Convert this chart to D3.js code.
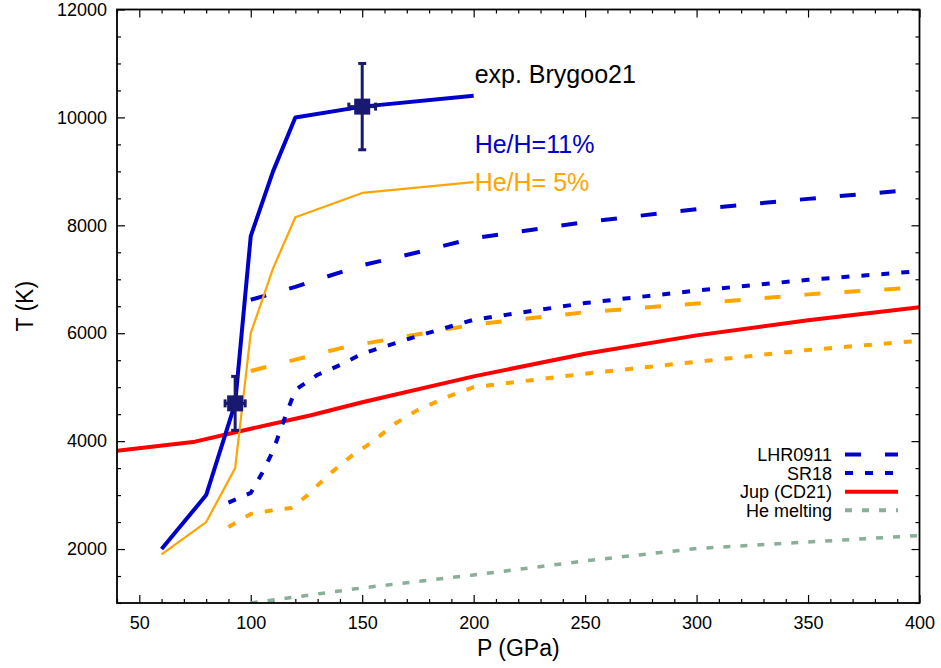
<!DOCTYPE html>
<html>
<head>
<meta charset="utf-8">
<script src="https://cdn.jsdelivr.net/npm/d3@7"></script>
<style>
  body { margin: 0; background: #fff; }
  text { font-family: "Liberation Sans", Arial, Helvetica, sans-serif; }
</style>
</head>
<body>
<div id="chart"></div>
<script>
// ---- data (P in GPa, T in K) ----
const he11P = [60, 80, 93, 100, 110, 120, 150, 200];
const he11T = [2000, 3000, 4700, 7800, 9000, 10000, 10200, 10400];

const he5P = [60, 80, 93, 100, 110, 120, 150, 200];
const he5T = [1900, 2500, 3500, 6000, 7200, 8150, 8600, 8800];

const lhr11P = [100, 120, 150, 175, 200, 250, 300, 350, 400];
const lhr11T = [6620, 6860, 7260, 7500, 7760, 8060, 8300, 8490, 8670];

const lhr5P = [100, 120, 140, 150, 200, 250, 300, 350, 400];
const lhr5T = [5300, 5510, 5720, 5800, 6160, 6390, 6550, 6720, 6850];

const sr11P = [90, 100, 105, 110, 115, 120, 130, 140, 150, 175, 200, 250, 300, 350, 400];
const sr11T = [2860, 3040, 3400, 3820, 4400, 4950, 5230, 5410, 5620, 5950, 6250, 6560, 6790, 6990, 7150];

const sr5P = [90, 100, 110, 118, 125, 135, 145, 155, 165, 175, 190, 200, 250, 300, 350, 400];
const sr5T = [2410, 2650, 2720, 2760, 2980, 3380, 3720, 4000, 4330, 4580, 4850, 5000, 5250, 5470, 5690, 5860];

const jupP = [40, 75, 100, 127, 150, 200, 250, 300, 350, 400];
const jupT = [3820, 3990, 4230, 4480, 4720, 5200, 5620, 5960, 6240, 6480];

const heMeltP = [100, 150, 200, 250, 300, 350, 400];
const heMeltT = [1000, 1280, 1520, 1780, 2010, 2130, 2250];

const expP = [93, 150];
const expT = [4700, 10200];
const expPerr = [4.5, 6];
const expTerr = [500, 800];

const xTicks = [50, 100, 150, 200, 250, 300, 350, 400];
const yTicks = [2000, 4000, 6000, 8000, 10000, 12000];

const legendNames = ["LHR0911", "SR18", "Jup (CD21)", "He melting"];

// ---- layout ----
const W = 941, H = 668;
const plotL = 117, plotR = 919.5, plotT = 9.5, plotB = 603;

const svg = d3.select('#chart').append('svg')
    .attr('width', W)
    .attr('height', H);

const x = d3.scaleLinear().domain([40, 400]).range([plotL, plotR]);
const y = d3.scaleLinear().domain([1000, 12000]).range([plotB, plotT]);

const BLUE = '#0000cc', ORANGE = '#ffa500', RED = '#ff0000',
      GREEN = '#8aae98', NAVY = '#191970';
const DASH = '16,24', DOT = '8,12', HEDOT = '7,10';

svg.append('clipPath').attr('id', 'plotclip')
  .append('rect')
    .attr('x', plotL).attr('y', plotT)
    .attr('width', plotR - plotL).attr('height', plotB - plotT);

// ---- axes (ticks pointing inwards, mirrored on top/right) ----
const minorX = d3.range(40, 401, 10).filter(v => v % 50 !== 0);
const minorY = d3.range(1000, 12001, 500).filter(v => v % 2000 !== 0);

function tickStyle(g) {
    g.select('.domain').remove();
    g.selectAll('line').attr('stroke', '#000').attr('stroke-width', 1.2);
    g.selectAll('text').attr('fill', '#000').style('font-size', '18px');
}

svg.append('g').attr('transform', `translate(0,${plotB})`)
    .call(d3.axisBottom(x).tickValues(xTicks).tickSize(-8).tickPadding(13).tickFormat(d3.format('d')))
    .call(tickStyle);
svg.append('g').attr('transform', `translate(0,${plotB})`)
    .call(d3.axisBottom(x).tickValues(minorX).tickSize(-4).tickFormat(''))
    .call(tickStyle);
svg.append('g').attr('transform', `translate(0,${plotT})`)
    .call(d3.axisTop(x).tickValues(xTicks).tickSize(-8).tickFormat(''))
    .call(tickStyle);
svg.append('g').attr('transform', `translate(0,${plotT})`)
    .call(d3.axisTop(x).tickValues(minorX).tickSize(-4).tickFormat(''))
    .call(tickStyle);

svg.append('g').attr('transform', `translate(${plotL},0)`)
    .call(d3.axisLeft(y).tickValues(yTicks).tickSize(-8).tickPadding(10).tickFormat(d3.format('d')))
    .call(tickStyle);
svg.append('g').attr('transform', `translate(${plotL},0)`)
    .call(d3.axisLeft(y).tickValues(minorY).tickSize(-4).tickFormat(''))
    .call(tickStyle);
svg.append('g').attr('transform', `translate(${plotR},0)`)
    .call(d3.axisRight(y).tickValues(yTicks).tickSize(-8).tickFormat(''))
    .call(tickStyle);
svg.append('g').attr('transform', `translate(${plotR},0)`)
    .call(d3.axisRight(y).tickValues(minorY).tickSize(-4).tickFormat(''))
    .call(tickStyle);

svg.append('text')
    .attr('x', (plotL + plotR) / 2).attr('y', 656)
    .attr('text-anchor', 'middle')
    .style('font-size', '23px')
    .text('P (GPa)');
svg.append('text')
    .attr('transform', `translate(33,${(plotT + plotB) / 2}) rotate(-90)`)
    .attr('text-anchor', 'middle')
    .style('font-size', '23px')
    .text('T (K)');

// ---- curves ----
const series = [
    { P: heMeltP, T: heMeltT, color: GREEN, width: 3.5, dash: HEDOT },
    { P: sr5P, T: sr5T, color: ORANGE, width: 4, dash: DOT },
    { P: lhr5P, T: lhr5T, color: ORANGE, width: 4, dash: DASH },
    { P: jupP, T: jupT, color: RED, width: 4, dash: null },
    { P: sr11P, T: sr11T, color: BLUE, width: 4, dash: DOT },
    { P: lhr11P, T: lhr11T, color: BLUE, width: 4, dash: DASH },
    { P: he5P, T: he5T, color: ORANGE, width: 2.2, dash: null },
    { P: he11P, T: he11T, color: BLUE, width: 4, dash: null }
];

const line = d3.line().x(d => x(d[0])).y(d => y(d[1]));
const plot = svg.append('g').attr('clip-path', 'url(#plotclip)');

series.forEach(s => {
    plot.append('path')
        .datum(d3.zip(s.P, s.T))
        .attr('d', line)
        .attr('fill', 'none')
        .attr('stroke', s.color)
        .attr('stroke-width', s.width)
        .attr('stroke-dasharray', s.dash)
        .attr('stroke-linejoin', 'round');
});

// ---- experimental points with error bars ----
const exp = d3.zip(expP, expT, expPerr, expTerr);
const eg = svg.append('g').attr('stroke', NAVY).attr('stroke-width', 3);
exp.forEach(([p, t, dp, dt]) => {
    eg.append('line').attr('x1', x(p)).attr('x2', x(p)).attr('y1', y(t - dt)).attr('y2', y(t + dt));
    eg.append('line').attr('x1', x(p) - 4).attr('x2', x(p) + 4).attr('y1', y(t - dt)).attr('y2', y(t - dt));
    eg.append('line').attr('x1', x(p) - 4).attr('x2', x(p) + 4).attr('y1', y(t + dt)).attr('y2', y(t + dt));
    eg.append('line').attr('x1', x(p - dp)).attr('x2', x(p + dp)).attr('y1', y(t)).attr('y2', y(t));
    eg.append('line').attr('x1', x(p - dp)).attr('x2', x(p - dp)).attr('y1', y(t) - 4).attr('y2', y(t) + 4);
    eg.append('line').attr('x1', x(p + dp)).attr('x2', x(p + dp)).attr('y1', y(t) - 4).attr('y2', y(t) + 4);
});
svg.selectAll('.exp-pt')
    .data(exp)
    .join('rect')
    .attr('class', 'exp-pt')
    .attr('x', d => x(d[0]) - 8)
    .attr('y', d => y(d[1]) - 8)
    .attr('width', 16)
    .attr('height', 16)
    .attr('fill', NAVY);

// ---- annotations ----
const notes = [
    { P: 200, T: 10800, text: 'exp. Brygoo21', color: '#000' },
    { P: 200, T: 9500, text: 'He/H=11%', color: BLUE },
    { P: 200, T: 8800, text: 'He/H= 5%', color: ORANGE }
];
svg.selectAll('.note')
    .data(notes)
    .join('text')
    .attr('class', 'note')
    .attr('x', d => x(d.P) + 1)
    .attr('y', d => y(d.T))
    .attr('dy', '0.35em')
    .attr('fill', d => d.color)
    .style('font-size', '25px')
    .style('white-space', 'pre')
    .text(d => d.text);

// ---- legend ----
const legendStyle = [
    { color: BLUE, dash: DASH },
    { color: BLUE, dash: DOT },
    { color: RED, dash: null },
    { color: GREEN, dash: HEDOT }
];
const lg = svg.append('g');
legendNames.forEach((name, i) => {
    const cy = 454.5 + i * 18.6;
    lg.append('text')
        .attr('x', 832).attr('y', cy + 6.5)
        .attr('text-anchor', 'end')
        .style('font-size', '18px')
        .text(name);
    lg.append('line')
        .attr('x1', 845).attr('x2', 898)
        .attr('y1', cy).attr('y2', cy)
        .attr('stroke', legendStyle[i].color)
        .attr('stroke-width', 4)
        .attr('stroke-dasharray', legendStyle[i].dash);
});

// ---- frame ----
svg.append('rect')
    .attr('x', plotL).attr('y', plotT)
    .attr('width', plotR - plotL).attr('height', plotB - plotT)
    .attr('fill', 'none')
    .attr('stroke', '#000')
    .attr('stroke-width', 1.8);
</script>
</body>
</html>
